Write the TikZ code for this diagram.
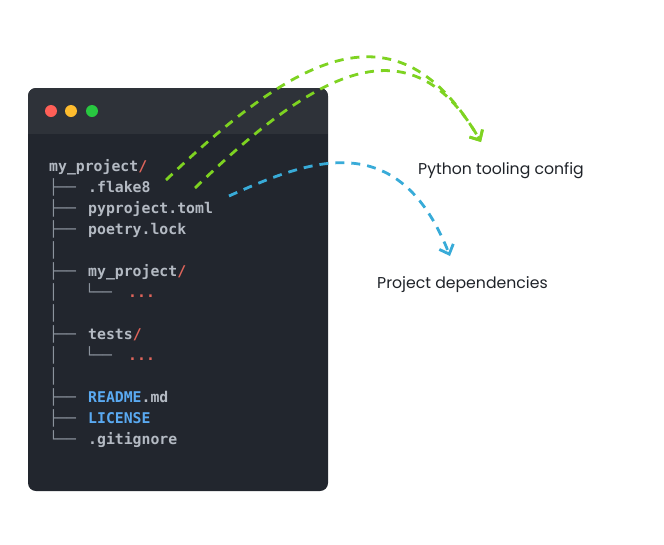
\documentclass[tikz,border=0pt]{standalone}
\usepackage{fontspec}
\usetikzlibrary{arrows.meta,positioning}
\newfontfamily\codefont{DejaVu Sans Mono}
\newfontfamily\notefont{Poppins}
\definecolor{winbody}{HTML}{22262E}
\definecolor{winbar}{HTML}{2E3239}
\definecolor{dotred}{HTML}{FF5F57}
\definecolor{dotyellow}{HTML}{FEBC2E}
\definecolor{dotgreen}{HTML}{28C840}
\definecolor{codegray}{HTML}{B4BAC3}
\definecolor{treegray}{HTML}{8B939D}
\definecolor{codeblue}{HTML}{5AAAF2}
\definecolor{codered}{HTML}{E0655B}
\definecolor{notetext}{HTML}{1F2329}
\definecolor{arrowgreen}{HTML}{7ED321}
\definecolor{arrowblue}{HTML}{38ABD8}
\tikzset{treechars/.style={anchor=base west, inner sep=0pt, text=treegray, font=\codefont\fontsize{14.8}{18}\selectfont},
  fname/.style={anchor=base west, inner sep=0pt, text=codegray, font=\codefont\bfseries\fontsize{14.8}{18}\selectfont},
  note/.style={anchor=base west, inner sep=0pt, text=notetext, font=\notefont\fontsize{15.7}{19}\selectfont},
  linkarrow/.style={-{Straight Barb[length=8pt,width=15pt]}, line width=2.8pt, dash pattern=on 9pt off 7pt}}

\begin{document}
\begin{tikzpicture}[x=1pt, y=-1pt]
\useasboundingbox (0,0) rectangle (664,544);
% terminal window
\fill[winbody, rounded corners=8pt] (28,88) rectangle (328,491);
\begin{scope}
\clip[rounded corners=8pt] (28,88) rectangle (328,491);
\fill[winbar] (28,88) rectangle (328,134);
\end{scope}
\fill[dotred] (51,111) circle (6pt);
\fill[dotyellow] (71,111) circle (6pt);
\fill[dotgreen] (92,111) circle (6pt);
% tree
\foreach \r/\t/\x in {1/├──/49, 2/├──/49, 3/├──/49, 4/│/49, 5/├──/49, 6/│/49, 6/└──/85,
  7/│/49, 8/├──/49, 9/│/49, 9/└──/85, 10/│/49, 11/├──/49, 12/├──/49, 13/└──/49}
  \node[treechars] at (\x,{171+21*\r}) {\t};
\node[fname] (root) at (49,171) {my\_project\textcolor{codered}{/}};
\node[fname] (flake) at (88,192) {.flake8};
\node[fname] (pyproj) at (88,213) {pyproject.toml};
\node[fname] (lock) at (88,234) {poetry.lock};
\node[fname] (pkg) at (88,276) {my\_project\textcolor{codered}{/}};
\node[fname, text=codered] (pkgmore) at (128,297) {...};
\node[fname] (tests) at (88,339) {tests\textcolor{codered}{/}};
\node[fname, text=codered] (testsmore) at (128,360) {...};
\node[fname] (readme) at (88,402) {\textcolor{codeblue}{README}.md};
\node[fname, text=codeblue] (license) at (88,423) {LICENSE};
\node[fname] (gitignore) at (88,444) {.gitignore};
% notes
\node[note] (tooling) at (418,174) {Python tooling config};
\node[note] (deps) at (377,288) {Project dependencies};
\coordinate (g1) at (166,180);
\coordinate (g2) at (195,188);
\coordinate (gtip) at (481,142);
\coordinate (b1) at (229,196);
\coordinate (btip) at (450,256);
\draw[linkarrow, arrowgreen] (g1) .. controls (296,56) and (397,-2) .. (gtip);
\draw[linkarrow, arrowgreen] (g2) .. controls (315,72) and (410,18) .. (gtip);
\draw[linkarrow, arrowblue] (b1) .. controls (309,160) and (398,125) .. (btip);
\end{tikzpicture}
\end{document}
